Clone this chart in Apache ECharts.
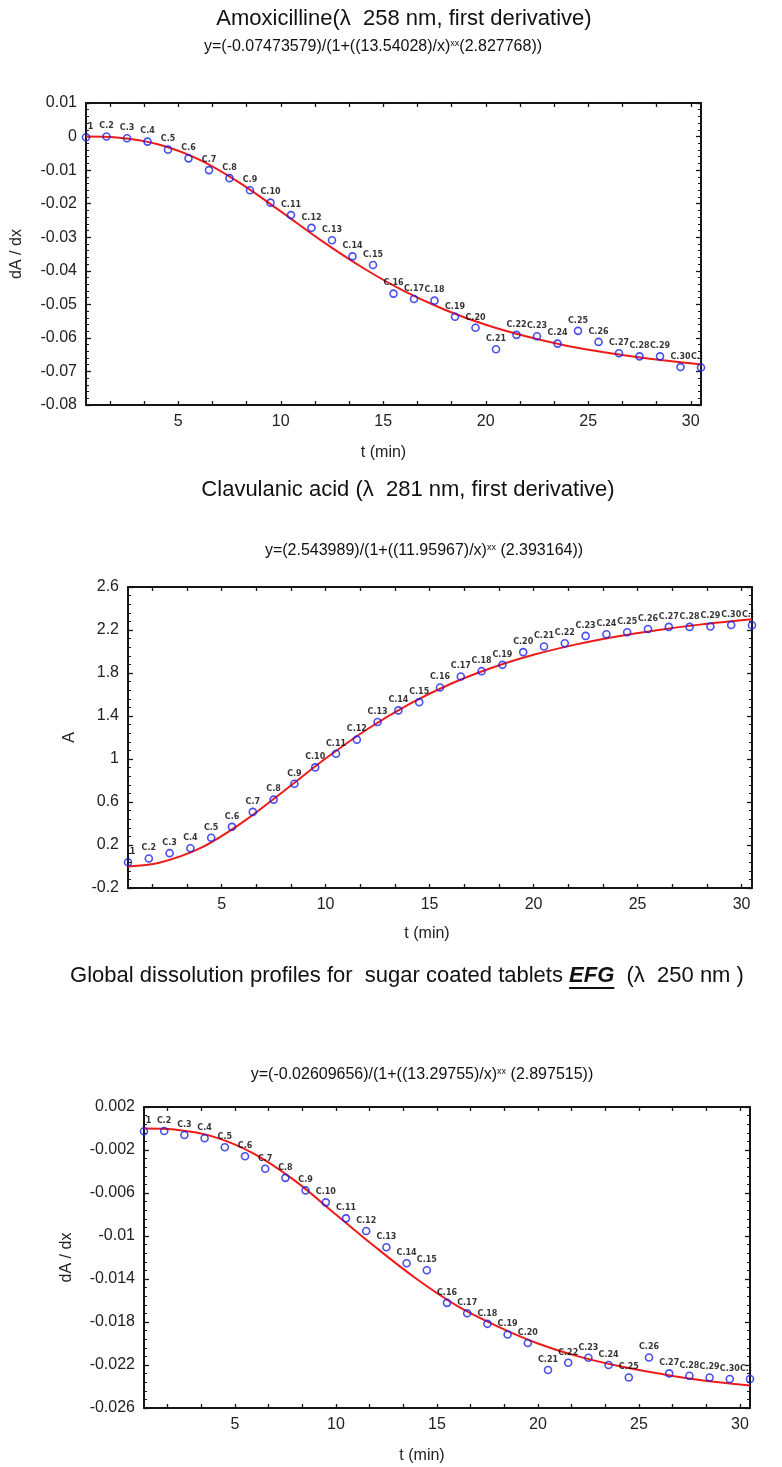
<!DOCTYPE html>
<html>
<head>
<meta charset="utf-8">
<script src="https://cdn.jsdelivr.net/npm/echarts@6/dist/echarts.min.js"></script>
<style>
html,body{margin:0;padding:0;background:#fff;}
#chart{width:782px;height:1467px;}
</style>
</head>
<body>
<div id="chart"></div>
<script>
// ---- data ----
const tMin = [0.5,1.5,2.5,3.5,4.5,5.5,6.5,7.5,8.5,9.5,10.5,11.5,12.5,13.5,14.5,15.5,16.5,17.5,18.5,19.5,20.5,21.5,22.5,23.5,24.5,25.5,26.5,27.5,28.5,29.5,30.5];
const pointLabels = ['C.1','C.2','C.3','C.4','C.5','C.6','C.7','C.8','C.9','C.10','C.11','C.12','C.13','C.14','C.15','C.16','C.17','C.18','C.19','C.20','C.21','C.22','C.23','C.24','C.25','C.26','C.27','C.28','C.29','C.30','C.31'];

const amoxDAdx = [-0.0002,0.0000,-0.0005,-0.0015,-0.0039,-0.0065,-0.0100,-0.0124,-0.0160,-0.0197,-0.0234,-0.0272,-0.0309,-0.0357,-0.0383,-0.0468,-0.0484,-0.0489,-0.0537,-0.0570,-0.0634,-0.0591,-0.0595,-0.0617,-0.0579,-0.0612,-0.0646,-0.0655,-0.0655,-0.0687,-0.0688];
const clavA = [0.04,0.075,0.124,0.170,0.267,0.369,0.508,0.622,0.770,0.922,1.049,1.180,1.344,1.452,1.529,1.665,1.767,1.817,1.876,1.994,2.046,2.077,2.145,2.160,2.179,2.210,2.229,2.229,2.232,2.247,2.244];
const efgDAdx = [-0.00026,-0.00023,-0.00060,-0.00091,-0.00174,-0.00258,-0.00375,-0.00459,-0.00576,-0.00687,-0.00836,-0.00954,-0.01105,-0.01254,-0.01319,-0.01622,-0.01718,-0.01817,-0.01916,-0.01996,-0.02247,-0.02179,-0.02133,-0.02200,-0.02316,-0.02130,-0.02278,-0.02300,-0.02316,-0.02330,-0.02330];

// fitted curves
const fitT = [0.5,2,4,6,8,10,12,14,16,18,20,22,24,26,28,30.5];
const amoxFit = [0.0000,-0.0003,-0.0023,-0.0068,-0.0138,-0.0223,-0.0311,-0.0391,-0.0460,-0.0516,-0.0561,-0.0596,-0.0624,-0.0645,-0.0662,-0.0679];
const clavFit = [0.001,0.035,0.173,0.410,0.703,1.004,1.277,1.509,1.698,1.849,1.969,2.064,2.140,2.201,2.250,2.299];
const efgFit = [0.0000,-0.0001,-0.0008,-0.0024,-0.0049,-0.0080,-0.0111,-0.0140,-0.0165,-0.0184,-0.0200,-0.0212,-0.0221,-0.0228,-0.0234,-0.0239];

const xTickLabels = [5,10,15,20,25,30];

const titles = [
  'Amoxicilline(λ  258 nm, first derivative)',
  'Clavulanic acid (λ  281 nm, first derivative)'
];
const title3Parts = ['Global dissolution profiles for  sugar coated tablets ', 'EFG', '  (λ  250 nm )'];
const formulas = [
  ['y=(-0.07473579)/(1+((13.54028)/x)', 'xx', '(2.827768))'],
  ['y=(2.543989)/(1+((11.95967)/x)', 'xx', ' (2.393164))'],
  ['y=(-0.02609656)/(1+((13.29755)/x)', 'xx', ' (2.897515))']
];
const yNames = ['dA / dx', 'A', 'dA / dx'];
const xName = 't (min)';

// ---- layout / style ----
const FONT = '"Liberation Sans", Arial, Helvetica, sans-serif';
const INK = '#151515';
const grids = [
  {left: 86, top: 103, width: 615, height: 302},
  {left: 128, top: 587, width: 624, height: 301},
  {left: 144, top: 1107, width: 606, height: 301}
];
const yScales = [
  {min: -0.08, max: 0.01, interval: 0.01, nameGap: 61},
  {min: -0.2, max: 2.6, interval: 0.4, nameGap: 50},
  {min: -0.026, max: 0.002, interval: 0.004, nameGap: 69}
];
const xNameGaps = [40, 38, 40];
const xNamePad = [[0, 20, 0, 0], [0, 26, 0, 0], [0, 50, 0, 0]];

const xTickValues = [];
for (let k = 1; k <= 18; k++) xTickValues.push(k * 5 / 3);

function fmtY(v) {
  if (Math.abs(v) < 1e-12) return '0';
  return String(parseFloat(v.toFixed(4)));
}

const xAxis = [], yAxis = [], series = [];
const pointsSets = [amoxDAdx, clavA, efgDAdx];
const fitSets = [amoxFit, clavFit, efgFit];

grids.forEach((g, i) => {
  const lineStyle = {color: INK, width: 2};
  const tickStyle = {color: INK, width: 1.3};
  ['bottom', 'top'].forEach(pos => {
    xAxis.push({
      gridIndex: i, type: 'value', min: 0.5, max: 30.5, position: pos,
      axisLine: {show: true, onZero: false, lineStyle},
      axisTick: {show: true, inside: true, length: 4, customValues: xTickValues, lineStyle: tickStyle},
      axisLabel: pos === 'bottom'
        ? {show: true, customValues: xTickLabels, fontSize: 16, color: '#222', fontFamily: FONT, margin: 9}
        : {show: false},
      splitLine: {show: false},
      name: pos === 'bottom' ? xName : '',
      nameLocation: 'middle', nameGap: xNameGaps[i],
      nameTextStyle: {fontSize: 16, color: '#222', fontFamily: FONT, padding: xNamePad[i]}
    });
  });
  const s = yScales[i];
  ['left', 'right'].forEach(pos => {
    yAxis.push({
      gridIndex: i, type: 'value', min: s.min, max: s.max, interval: s.interval, position: pos,
      axisLine: {show: true, onZero: false, lineStyle},
      axisTick: {show: true, inside: true, length: 5, lineStyle: tickStyle},
      minorTick: {show: true, splitNumber: 5, length: 3, lineStyle: {color: INK, width: 1}},
      axisLabel: pos === 'left'
        ? {show: true, formatter: fmtY, fontSize: 16, color: '#222', fontFamily: FONT, margin: 9}
        : {show: false},
      splitLine: {show: false}, minorSplitLine: {show: false},
      name: pos === 'left' ? yNames[i] : '',
      nameLocation: 'middle', nameGap: s.nameGap, nameRotate: 90,
      nameTextStyle: {fontSize: 16, color: '#222', fontFamily: FONT}
    });
  });
  series.push({
    type: 'line', xAxisIndex: 2 * i, yAxisIndex: 2 * i,
    data: fitT.map((t, j) => [t, fitSets[i][j]]),
    smooth: 0.35, showSymbol: false, silent: true,
    lineStyle: {color: '#ee1b1b', width: 2}, z: 2
  });
  series.push({
    type: 'scatter', xAxisIndex: 2 * i, yAxisIndex: 2 * i,
    data: tMin.map((t, j) => [t, pointsSets[i][j]]),
    symbol: 'circle', symbolSize: 7,
    itemStyle: {color: 'rgba(0,0,0,0)', borderColor: '#1a22e6', borderWidth: 1.6},
    label: {
      show: true, position: 'top', distance: 2,
      formatter: p => pointLabels[p.dataIndex],
      fontSize: 8, fontWeight: 'bold', color: '#000', fontFamily: '"DejaVu Sans", sans-serif'
    },
    z: 3
  });
});

const titleFont = 22;
const mainTitleStyle = {fontSize: titleFont, fontWeight: 'normal', color: '#111', fontFamily: FONT};
const formulaRich = {
  n: {fontSize: 16, fontWeight: 'normal', fontFamily: FONT, color: '#111', verticalAlign: 'top', lineHeight: 18},
  s: {fontSize: 9, fontWeight: 'normal', fontFamily: FONT, color: '#111', verticalAlign: 'top', lineHeight: 10}
};
const formulaPos = [{x: 373, y: 48}, {x: 424, y: 552}, {x: 422, y: 1076}];
const titlePos = [{x: 404, y: 19}, {x: 408, y: 490}, {x: 407, y: 976}];

const title = [];
titles.forEach((t, i) => {
  title.push({text: t, left: titlePos[i].x, top: titlePos[i].y, textAlign: 'center', textVerticalAlign: 'middle', padding: 0, textStyle: mainTitleStyle});
});
title.push({
  text: '{n|' + title3Parts[0] + '}{b|' + title3Parts[1] + '}{n|' + title3Parts[2] + '}',
  left: titlePos[2].x, top: titlePos[2].y, textAlign: 'center', textVerticalAlign: 'middle', padding: 0,
  textStyle: {fontWeight: 'normal', rich: {
    n: {fontSize: titleFont, fontWeight: 'normal', fontFamily: FONT, color: '#111'},
    b: {fontSize: titleFont, fontFamily: FONT, color: '#111', fontWeight: 'bold', fontStyle: 'italic'}
  }}
});
formulas.forEach((f, i) => {
  title.push({
    text: '{n|' + f[0] + '}{s|' + f[1] + '}{n|' + f[2] + '}',
    left: formulaPos[i].x, top: formulaPos[i].y, textAlign: 'center', textVerticalAlign: 'middle', padding: 0,
    textStyle: {fontWeight: 'normal', rich: formulaRich}
  });
});

// underline under EFG (measured from the font)
const ctx = document.createElement('canvas').getContext('2d');
ctx.font = 'normal ' + titleFont + 'px ' + FONT;
const wPre = ctx.measureText(title3Parts[0]).width;
const wPost = ctx.measureText(title3Parts[2]).width;
ctx.font = 'italic bold ' + titleFont + 'px ' + FONT;
const wEFG = ctx.measureText(title3Parts[1]).width;
const startX = titlePos[2].x - (wPre + wEFG + wPost) / 2 + wPre;

const underline = {
  type: 'line', silent: true,
  shape: {x1: startX, y1: titlePos[2].y + 12, x2: startX + wEFG, y2: titlePos[2].y + 12},
  style: {stroke: '#111', lineWidth: 2}
};

const chart = echarts.init(document.getElementById('chart'), null, {renderer: 'canvas'});
chart.setOption({
  backgroundColor: '#fff',
  animation: false,
  title,
  grid: grids.map(g => Object.assign({containLabel: false}, g)),
  xAxis, yAxis, series,
  graphic: [underline]
});

// the point labels are cut by the plot frame in the original: hide their overflow
const masks = [];
grids.forEach((g, i) => {
  const n = tMin.length - 1;
  const pFirst = chart.convertToPixel({xAxisIndex: 2 * i, yAxisIndex: 2 * i}, [tMin[0], pointsSets[i][0]]);
  const pLast = chart.convertToPixel({xAxisIndex: 2 * i, yAxisIndex: 2 * i}, [tMin[n], pointsSets[i][n]]);
  masks.push({type: 'rect', silent: true, z: 100,
    shape: {x: g.left - 10, y: pFirst[1] - 17, width: 8.8, height: 11}, style: {fill: '#fff'}});
  masks.push({type: 'rect', silent: true, z: 100,
    shape: {x: g.left + g.width + 1.2, y: pLast[1] - 17, width: 25, height: 12}, style: {fill: '#fff'}});
});
chart.setOption({graphic: [underline].concat(masks)});
</script>
</body>
</html>
